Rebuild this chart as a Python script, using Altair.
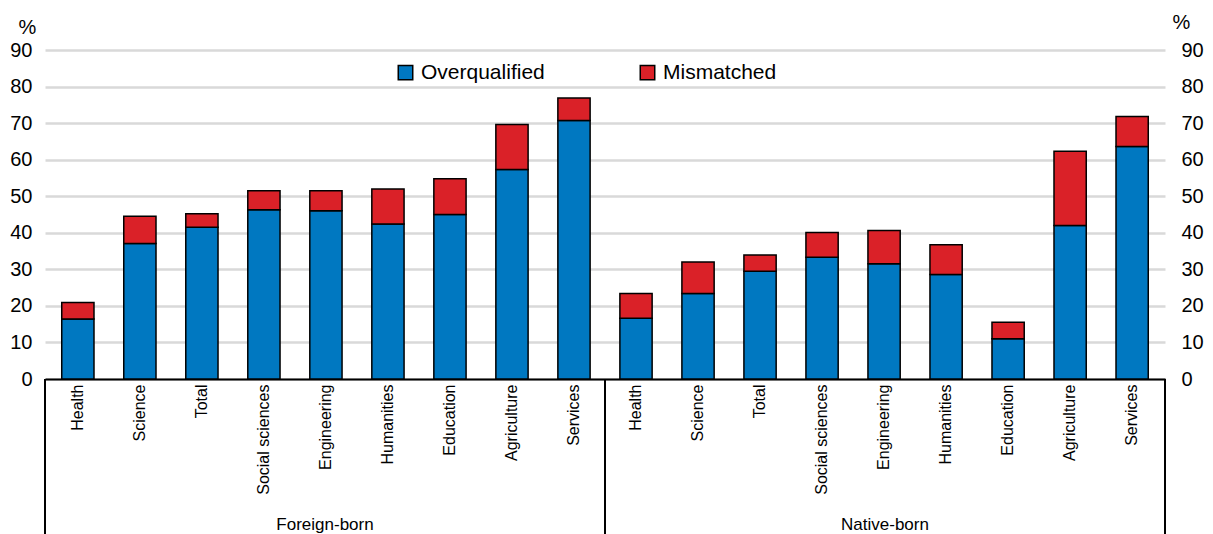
import altair as alt
import pandas as pd

groups = ["Foreign-born", "Native-born"]
fields = ["Health", "Science", "Total", "Social sciences", "Engineering",
          "Humanities", "Education", "Agriculture", "Services"]
foreign_over = [16.4, 37.1, 41.5, 46.3, 46.0, 42.4, 45.0, 57.3, 70.7]
foreign_total = [20.9, 44.5, 45.2, 51.5, 51.5, 52.0, 54.8, 69.6, 76.9]
native_over = [16.6, 23.4, 29.5, 33.3, 31.5, 28.6, 11.0, 42.0, 63.6]
native_total = [23.4, 32.0, 33.9, 40.1, 40.6, 36.7, 15.5, 62.3, 71.8]
series = ["Overqualified", "Mismatched"]
colors = ["#0078c1", "#da2128"]
y_ticks = [0, 10, 20, 30, 40, 50, 60, 70, 80, 90]

rows = []
keys = []
for g, over, tot in [(groups[0], foreign_over, foreign_total),
                     (groups[1], native_over, native_total)]:
    for f, o, t in zip(fields, over, tot):
        k = g + "|" + f
        keys.append(k)
        rows.append({"key": k, "series": series[0], "value": o, "ord": 0, "total": t})
        rows.append({"key": k, "series": series[1], "value": round(t - o, 1), "ord": 1, "total": t})
df = pd.DataFrame(rows)

W = 1120
H = 329
FONT = "Liberation Sans"

x_enc = alt.X(
    "key:N", sort=keys, title=None,
    scale=alt.Scale(paddingInner=0.48, paddingOuter=0.27),
    axis=alt.Axis(labelExpr="split(datum.value, '|')[1]", labelAngle=270,
                  labelAlign="right", labelBaseline="middle", labelFontSize=16,
                  labelFont=FONT, labelColor="black", labelPadding=5,
                  ticks=False, domain=True, domainColor="black", domainWidth=2,
                  grid=False),
)

y_scale = alt.Scale(domain=[0, 90], nice=False)

bars = alt.Chart(df).mark_bar(stroke="black", strokeWidth=1.5).encode(
    x=x_enc,
    y=alt.Y("value:Q", stack="zero", title="%", scale=y_scale,
            axis=alt.Axis(orient="left", values=y_ticks, domain=False, ticks=False,
                          labelFontSize=20, labelFont=FONT, labelColor="black",
                          labelPadding=13, gridColor="#d9d9d9", gridWidth=2.5,
                          titleAngle=0, titleX=-27, titleY=-17, titleAlign="left",
                          titleBaseline="alphabetic", titleFontSize=20,
                          titleFont=FONT, titleFontWeight="normal", titleColor="black")),
    color=alt.Color("series:N", scale=alt.Scale(domain=series, range=colors),
                    legend=alt.Legend(title=None, orient="none", legendX=350,
                                      legendY=12, direction="horizontal",
                                      symbolType="square", symbolSize=210,
                                      symbolStrokeColor="black", symbolStrokeWidth=1.5,
                                      labelFontSize=21, labelFont=FONT,
                                      labelColor="black", columnPadding=92,
                                      labelOffset=5)),
    order=alt.Order("ord:Q"),
)

right = alt.Chart(df).mark_point(opacity=0).encode(
    x=alt.X("key:N", sort=keys),
    y=alt.Y("total:Q", title="%", scale=y_scale,
            axis=alt.Axis(orient="right", values=y_ticks, domain=False, ticks=False,
                          grid=False, labelFontSize=20, labelFont=FONT,
                          labelColor="black", labelPadding=16,
                          titleAngle=0, titleX=7, titleY=-22, titleAlign="left",
                          titleBaseline="alphabetic", titleFontSize=20,
                          titleFont=FONT, titleFontWeight="normal", titleColor="black")),
)

seps = pd.DataFrame({"name": ["left", "mid", "right"], "frac": [0.0, 0.5, 1.0]})
rules = alt.Chart(seps).transform_calculate(
    px="datum.frac * width"
).mark_rule(color="black", strokeWidth=2).encode(
    x=alt.X("px:Q", scale=None, axis=None),
    y=alt.value(H),
    y2=alt.value(H + 160),
)

glab = pd.DataFrame({"g": groups, "frac": [0.25, 0.75]})
group_text = alt.Chart(glab).transform_calculate(
    px="datum.frac * width"
).mark_text(fontSize=17, font=FONT, color="black",
            baseline="alphabetic", align="center").encode(
    x=alt.X("px:Q", scale=None, axis=None),
    y=alt.value(H + 151),
    text="g:N",
)

chart = alt.layer(bars, right, rules, group_text).resolve_axis(
    y="independent"
).properties(
    width=W, height=H,
    background="white",
    autosize=alt.AutoSizeParams(type="none"),
    padding={"left": 45, "top": 50, "right": 48, "bottom": 155},
).configure_view(
    stroke="transparent", strokeWidth=0
).configure_axisY(domain=False, domainOpacity=0).configure_axisX(grid=False)

chart.save("out.html", embed_options={"renderer": "svg", "actions": False})
